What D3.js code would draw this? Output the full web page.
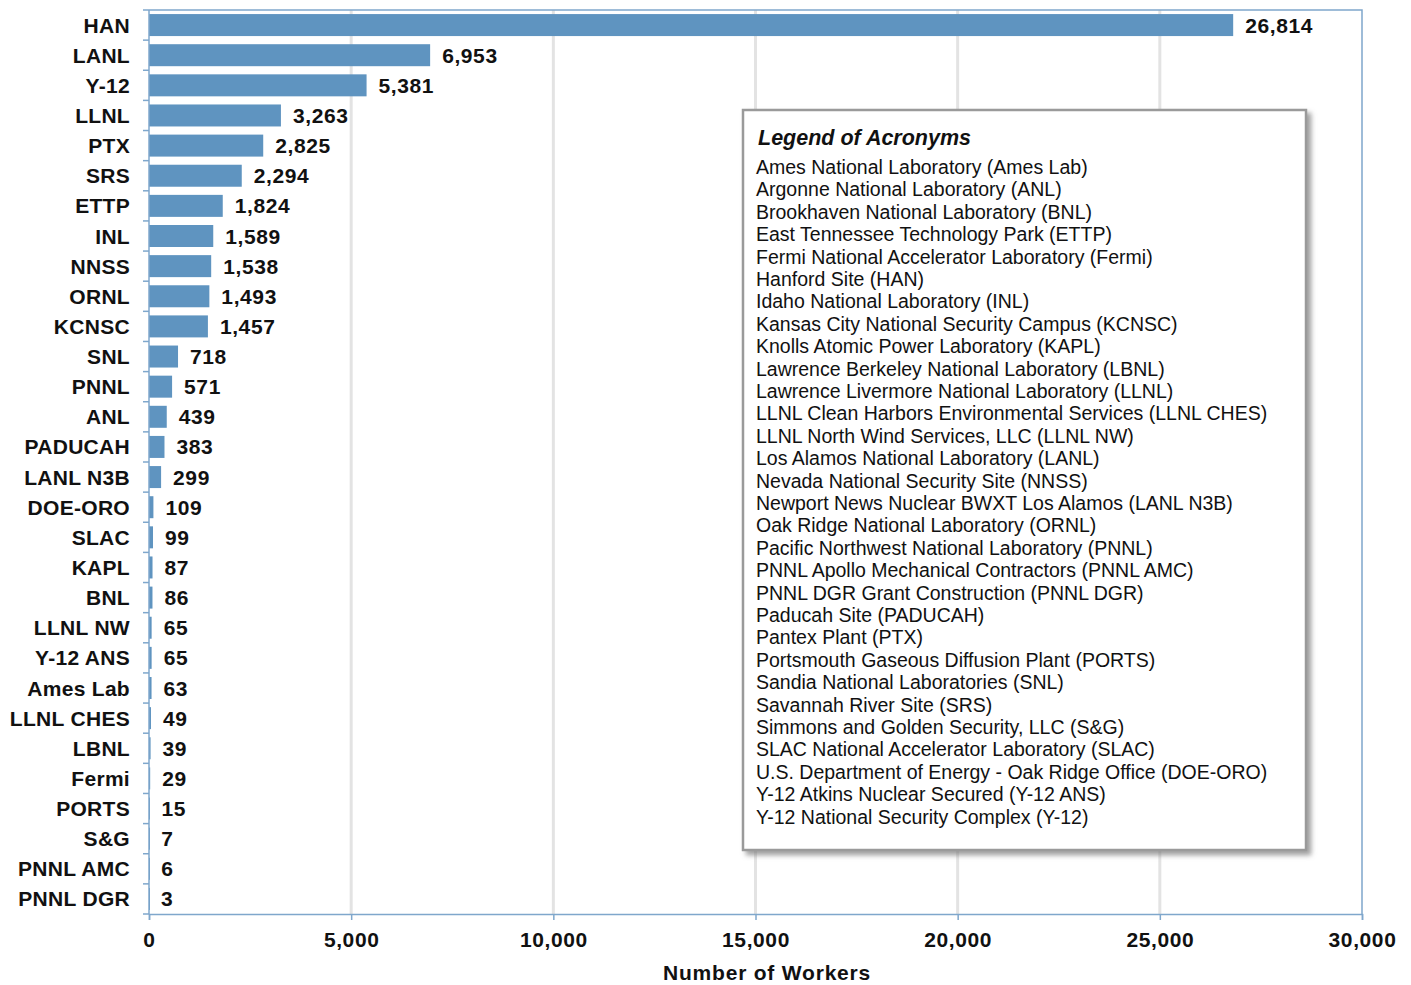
<!DOCTYPE html>
<html>
<head>
<meta charset="utf-8">
<script src="https://cdn.jsdelivr.net/npm/d3@7"></script>
<style>
  body { margin: 0; background: #fff; }
  svg text { font-family: "Liberation Sans", Arial, sans-serif; fill: #111; }
</style>
</head>
<body>
<svg width="1411" height="985"></svg>
<script>
var sites = ["HAN", "LANL", "Y-12", "LLNL", "PTX", "SRS", "ETTP", "INL", "NNSS", "ORNL",
  "KCNSC", "SNL", "PNNL", "ANL", "PADUCAH", "LANL N3B", "DOE-ORO", "SLAC", "KAPL", "BNL",
  "LLNL NW", "Y-12 ANS", "Ames Lab", "LLNL CHES", "LBNL", "Fermi", "PORTS", "S&G", "PNNL AMC", "PNNL DGR"];
var workers = [26814, 6953, 5381, 3263, 2825, 2294, 1824, 1589, 1538, 1493,
  1457, 718, 571, 439, 383, 299, 109, 99, 87, 86,
  65, 65, 63, 49, 39, 29, 15, 7, 6, 3];
var xTicks = [0, 5000, 10000, 15000, 20000, 25000, 30000];
var legendTitle = "Legend of Acronyms";
var legendItems = [
  "Ames National Laboratory (Ames Lab)",
  "Argonne National Laboratory (ANL)",
  "Brookhaven National Laboratory (BNL)",
  "East Tennessee Technology Park (ETTP)",
  "Fermi National Accelerator Laboratory (Fermi)",
  "Hanford Site (HAN)",
  "Idaho National Laboratory (INL)",
  "Kansas City National Security Campus (KCNSC)",
  "Knolls Atomic Power Laboratory (KAPL)",
  "Lawrence Berkeley National Laboratory (LBNL)",
  "Lawrence Livermore National Laboratory (LLNL)",
  "LLNL Clean Harbors Environmental Services (LLNL CHES)",
  "LLNL North Wind Services, LLC (LLNL NW)",
  "Los Alamos National Laboratory (LANL)",
  "Nevada National Security Site (NNSS)",
  "Newport News Nuclear BWXT Los Alamos (LANL N3B)",
  "Oak Ridge National Laboratory (ORNL)",
  "Pacific Northwest National Laboratory (PNNL)",
  "PNNL Apollo Mechanical Contractors (PNNL AMC)",
  "PNNL DGR Grant Construction (PNNL DGR)",
  "Paducah Site (PADUCAH)",
  "Pantex Plant (PTX)",
  "Portsmouth Gaseous Diffusion Plant (PORTS)",
  "Sandia National Laboratories (SNL)",
  "Savannah River Site (SRS)",
  "Simmons and Golden Security, LLC (S&G)",
  "SLAC National Accelerator Laboratory (SLAC)",
  "U.S. Department of Energy - Oak Ridge Office (DOE-ORO)",
  "Y-12 Atkins Nuclear Secured (Y-12 ANS)",
  "Y-12 National Security Complex (Y-12)"
];

var svg = d3.select("svg");
var margin = {top: 10, left: 149, right: 49, bottom: 71};
var width = 1411 - margin.left - margin.right,
    height = 985 - margin.top - margin.bottom;
var axisColor = "#7fa7cc";
var fmt = d3.format(",");

var g = svg.append("g").attr("transform", "translate(" + margin.left + "," + margin.top + ")");

var xScale = d3.scaleLinear().domain([0, 30000]).range([0, width]);
var yScale = d3.scaleBand().domain(sites).range([0, height]).paddingInner(0.27).paddingOuter(0.135);

// gridlines
g.selectAll(".grid").data(xTicks.slice(1, -1)).enter().append("line")
  .attr("x1", function(d) { return xScale(d); })
  .attr("x2", function(d) { return xScale(d); })
  .attr("y1", 0).attr("y2", height)
  .attr("stroke", "#e3e3e3").attr("stroke-width", 3);

// plot border (top / right)
g.append("path")
  .attr("d", "M0,0H" + width + "V" + height)
  .attr("fill", "none").attr("stroke", axisColor).attr("stroke-width", 1.5);

// bars
g.selectAll(".bar").data(sites).enter().append("rect")
  .attr("class", "bar")
  .attr("x", 0)
  .attr("y", function(d) { return yScale(d); })
  .attr("width", function(d, i) { return Math.max(1, xScale(workers[i])); })
  .attr("height", yScale.bandwidth())
  .attr("fill", "#5f94c0");

// value labels
g.selectAll(".val").data(sites).enter().append("text")
  .attr("x", function(d, i) { return xScale(workers[i]) + 12; })
  .attr("y", function(d) { return yScale(d) + yScale.bandwidth() / 2; })
  .attr("dy", "0.36em")
  .attr("font-size", "21px").attr("font-weight", "bold")
  .attr("letter-spacing", "0.6px")
  .text(function(d, i) { return fmt(workers[i]); });

// y axis
var step = yScale.step();
var yAxis = g.append("g");
yAxis.append("line").attr("x1", 0).attr("x2", 0).attr("y1", 0).attr("y2", height)
  .attr("stroke", axisColor).attr("stroke-width", 1.5);
yAxis.selectAll(".ytick").data(d3.range(sites.length + 1)).enter().append("line")
  .attr("x1", -6).attr("x2", 0)
  .attr("y1", function(i) { return i * step; })
  .attr("y2", function(i) { return i * step; })
  .attr("stroke", axisColor).attr("stroke-width", 1.5);
yAxis.selectAll(".ylab").data(sites).enter().append("text")
  .attr("x", -19)
  .attr("y", function(d) { return yScale(d) + yScale.bandwidth() / 2; })
  .attr("dy", "0.36em")
  .attr("text-anchor", "end")
  .attr("font-size", "21px").attr("font-weight", "bold")
  .attr("letter-spacing", "0.3px")
  .text(function(d) { return d; });

// x axis
var xAxis = g.append("g").attr("transform", "translate(0," + height + ")")
  .call(d3.axisBottom(xScale).tickValues(xTicks).tickFormat(fmt).tickSize(6).tickPadding(12));
xAxis.select(".domain").attr("stroke", axisColor).attr("stroke-width", 1.5);
xAxis.selectAll(".tick line").attr("stroke", axisColor).attr("stroke-width", 1.5);
xAxis.selectAll(".tick text")
  .attr("font-size", "21px").attr("font-weight", "bold")
  .attr("letter-spacing", "0.6px")
  .attr("font-family", "Liberation Sans, Arial, sans-serif").attr("fill", "#111");

svg.append("text")
  .attr("x", 767)
  .attr("y", 980)
  .attr("text-anchor", "middle")
  .attr("font-size", "21px").attr("font-weight", "bold")
  .attr("letter-spacing", "0.8px")
  .text("Number of Workers");

// legend box
var defs = svg.append("defs");
var filt = defs.append("filter").attr("id", "shadow").attr("x", "-5%").attr("y", "-5%").attr("width", "115%").attr("height", "115%");
filt.append("feDropShadow").attr("dx", 4).attr("dy", 4).attr("stdDeviation", 2.5)
  .attr("flood-color", "#777").attr("flood-opacity", 0.7);

var lg = svg.append("g").attr("transform", "translate(743,110)");
lg.append("rect")
  .attr("width", 563).attr("height", 740)
  .attr("fill", "#fff").attr("stroke", "#9a9a9a").attr("stroke-width", 2.5)
  .attr("filter", "url(#shadow)");
lg.append("text")
  .attr("x", 15).attr("y", 35)
  .attr("font-size", "21.5px").attr("font-weight", "bold").attr("font-style", "italic")
  .text(legendTitle);
lg.selectAll(".item").data(legendItems).enter().append("text")
  .attr("x", 13)
  .attr("y", function(d, i) { return 64 + i * 22.4; })
  .attr("font-size", "19.5px")
  .text(function(d) { return d; });
</script>
</body>
</html>
